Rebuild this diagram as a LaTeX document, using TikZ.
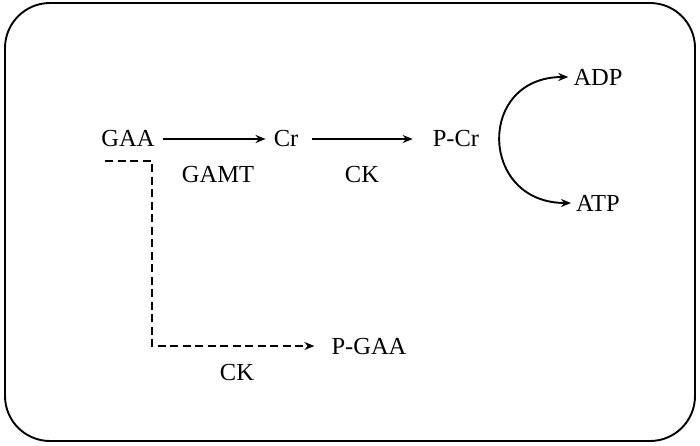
\documentclass[tikz,border=0pt]{standalone}
\usepackage{fontspec}
\setmainfont{Liberation Serif}
\usetikzlibrary{arrows.meta,positioning}

\tikzset{
  met/.style={inner xsep=8pt, inner ysep=4pt, font=\fontsize{24.5}{28}\selectfont},
  enz/.style={inner sep=0pt, font=\fontsize{24.5}{28}\selectfont},
  react/.style={line width=1.9pt, -{Stealth[length=10pt,width=8pt]}},
  sidereact/.style={react, dash pattern=on 8pt off 4.5pt}
}

\begin{document}
\begin{tikzpicture}[x=1pt,y=-1pt]
\useasboundingbox (0,0) rectangle (700,445);
\draw[line width=1.9pt, rounded corners=45pt] (5,3) rectangle (695,441);
% metabolites
\node[met] (GAA) at (128,139) {GAA};
\node[met] (Cr) at (286,139) {Cr};
\node[met] (PCr) at (456,139) {P-Cr};
\node[met, inner xsep=5pt] (ADP) at (598,77) {ADP};
\node[met, inner xsep=5pt] (ATP) at (598,203) {ATP};
\node[met] (PGAA) at (369,346) {P-GAA};
% enzymes
\node[enz] (GAMT) at (218,175) {GAMT};
\node[enz] (CK1) at (362,175) {CK};
\node[enz] (CK2) at (237,372) {CK};
% reactions
\draw[react] (GAA) -- (Cr);
\draw[react, shorten <=6pt, shorten >=12pt] (Cr) -- (PCr);
\draw[react, {Stealth[length=10pt,width=8pt]}-{Stealth[length=10pt,width=8pt]}] (ADP.west) .. controls ([xshift=-92pt]ADP.west) and ([xshift=-92pt]ATP.west) .. (ATP.west);
\coordinate (dstart) at (105,161);
\coordinate (dturn) at (152,161);
\draw[sidereact, shorten >=9pt] (dstart) -- (dturn) |- (PGAA.west);
\end{tikzpicture}
\end{document}
